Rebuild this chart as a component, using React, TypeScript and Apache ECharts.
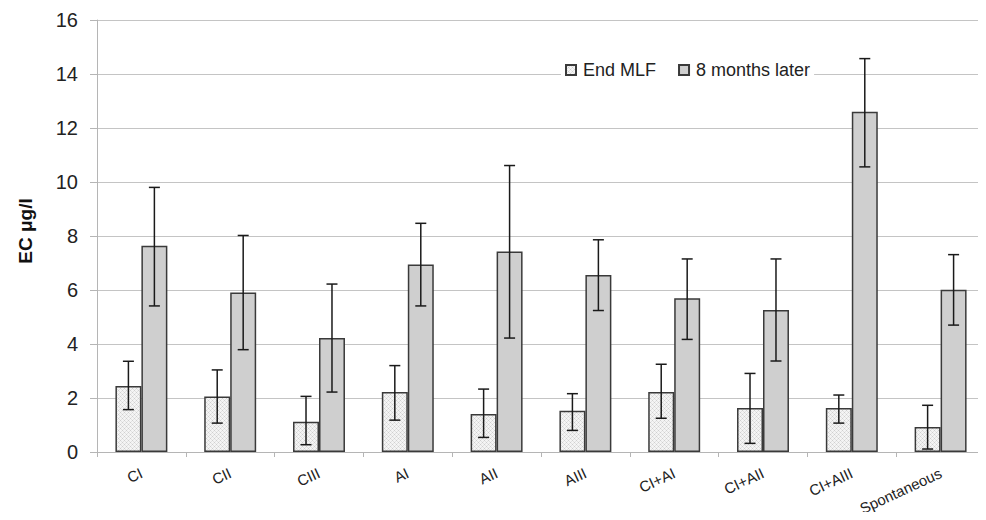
import React, { useEffect, useRef } from "react";
import * as echarts from "echarts";

const categories = ["CI", "CII", "CIII", "AI", "AII", "AIII", "CI+AI", "CI+AII", "CI+AIII", "Spontaneous"];
const seriesNames = ["End MLF", "8 months later"];
const endMLF = [2.44, 2.06, 1.12, 2.22, 1.41, 1.53, 2.22, 1.63, 1.63, 0.93];
const endMLFLow = [1.57, 1.07, 0.27, 1.18, 0.54, 0.80, 1.25, 0.32, 1.07, 0.11];
const endMLFHigh = [3.36, 3.04, 2.06, 3.20, 2.33, 2.16, 3.25, 2.91, 2.11, 1.73];
const later = [7.64, 5.91, 4.22, 6.94, 7.43, 6.56, 5.69, 5.26, 12.6, 6.01];
const laterLow = [5.41, 3.79, 2.22, 5.41, 4.22, 5.24, 4.17, 3.37, 10.56, 4.70];
const laterHigh = [9.80, 8.02, 6.22, 8.47, 10.61, 7.86, 7.15, 7.15, 14.57, 7.31];
const yTicks = { min: 0, max: 16, interval: 2 };

const FONT = "'Liberation Sans', Arial, Helvetica, sans-serif";
const GROUP_FRAC = 0.585;

function makePattern(): string {
  const c = document.createElement("canvas");
  c.width = 4;
  c.height = 4;
  const ctx = c.getContext("2d")!;
  ctx.fillStyle = "#f4f4f4";
  ctx.fillRect(0, 0, 4, 4);
  ctx.fillStyle = "#cfcfcf";
  ctx.fillRect(0, 0, 1, 1);
  ctx.fillRect(2, 2, 1, 1);
  ctx.fillStyle = "#e2e2e2";
  ctx.fillRect(1, 1, 1, 1);
  ctx.fillRect(3, 3, 1, 1);
  ctx.fillRect(3, 1, 1, 1);
  ctx.fillRect(1, 3, 1, 1);
  return c.toDataURL();
}

function errorSeries(low: number[], high: number[], side: number) {
  return {
    type: "custom",
    silent: true,
    z: 10,
    data: categories.map((_, i) => [i, low[i], high[i]]),
    encode: { x: 0, y: [1, 2] },
    renderItem: (params: any, api: any) => {
      const idx = api.value(0);
      const lo = api.coord([idx, api.value(1)]);
      const hi = api.coord([idx, api.value(2)]);
      const band = api.size([1, 0])[0];
      const x = lo[0] + (side * band * GROUP_FRAC) / 4;
      const cap = 5.5;
      const style = { stroke: "#1a1a1a", lineWidth: 1.5 };
      return {
        type: "group",
        children: [
          { type: "line", shape: { x1: x, y1: lo[1], x2: x, y2: hi[1] }, style },
          { type: "line", shape: { x1: x - cap, y1: lo[1], x2: x + cap, y2: lo[1] }, style },
          { type: "line", shape: { x1: x - cap, y1: hi[1], x2: x + cap, y2: hi[1] }, style },
        ],
      };
    },
  };
}

export default function App() {
  const ref = useRef<HTMLDivElement>(null);
  useEffect(() => {
    if (!ref.current) return;
    const chart = echarts.init(ref.current, null, { renderer: "svg" });
    const pattern = makePattern();
    chart.setOption({
      animation: false,
      textStyle: { fontFamily: FONT },
      grid: { left: 97, right: 1, top: 20, bottom: 68 },
      legend: {
        top: 58,
        left: 561,
        backgroundColor: "#ffffff",
        padding: [3, 4],
        itemWidth: 10,
        itemHeight: 10,
        itemGap: 22,
        icon: "rect",
        textStyle: { fontSize: 18, color: "#222", fontFamily: FONT, padding: [0, 0, 0, 2] },
        data: seriesNames,
      },
      xAxis: {
        type: "category",
        data: categories,
        axisLine: { lineStyle: { color: "#b5b5b5", width: 1 } },
        axisTick: { show: true, length: 5, lineStyle: { color: "#b5b5b5" } },
        axisLabel: { rotate: 25, fontSize: 15, color: "#222", margin: 20, fontFamily: FONT },
      },
      yAxis: {
        type: "value",
        min: yTicks.min,
        max: yTicks.max,
        interval: yTicks.interval,
        name: "EC μg/l",
        nameLocation: "middle",
        nameGap: 62,
        nameTextStyle: { fontSize: 19, fontWeight: "bold", color: "#111", fontFamily: FONT, padding: [0, 0, 0, 10] },
        axisLine: { show: true, lineStyle: { color: "#b5b5b5" } },
        axisTick: { show: true, length: 7, lineStyle: { color: "#b5b5b5" } },
        axisLabel: { fontSize: 20, color: "#222", margin: 19, fontFamily: FONT },
        splitLine: { lineStyle: { color: "#c4c4c4", width: 1 } },
      },
      series: [
        {
          name: seriesNames[0],
          type: "bar",
          data: endMLF,
          barGap: "0%",
          barCategoryGap: "41.5%",
          itemStyle: {
            color: { image: pattern, repeat: "repeat" },
            borderColor: "#3a3a3a",
            borderWidth: 1.5,
          },
        },
        {
          name: seriesNames[1],
          type: "bar",
          data: later,
          barGap: "0%",
          barCategoryGap: "41.5%",
          itemStyle: { color: "#cfcfcf", borderColor: "#3a3a3a", borderWidth: 1.5 },
        },
        errorSeries(endMLFLow, endMLFHigh, -1),
        errorSeries(laterLow, laterHigh, 1),
      ],
    });
    return () => chart.dispose();
  }, []);
  return <div ref={ref} style={{ width: 986, height: 520, margin: -8 }} />;
}
